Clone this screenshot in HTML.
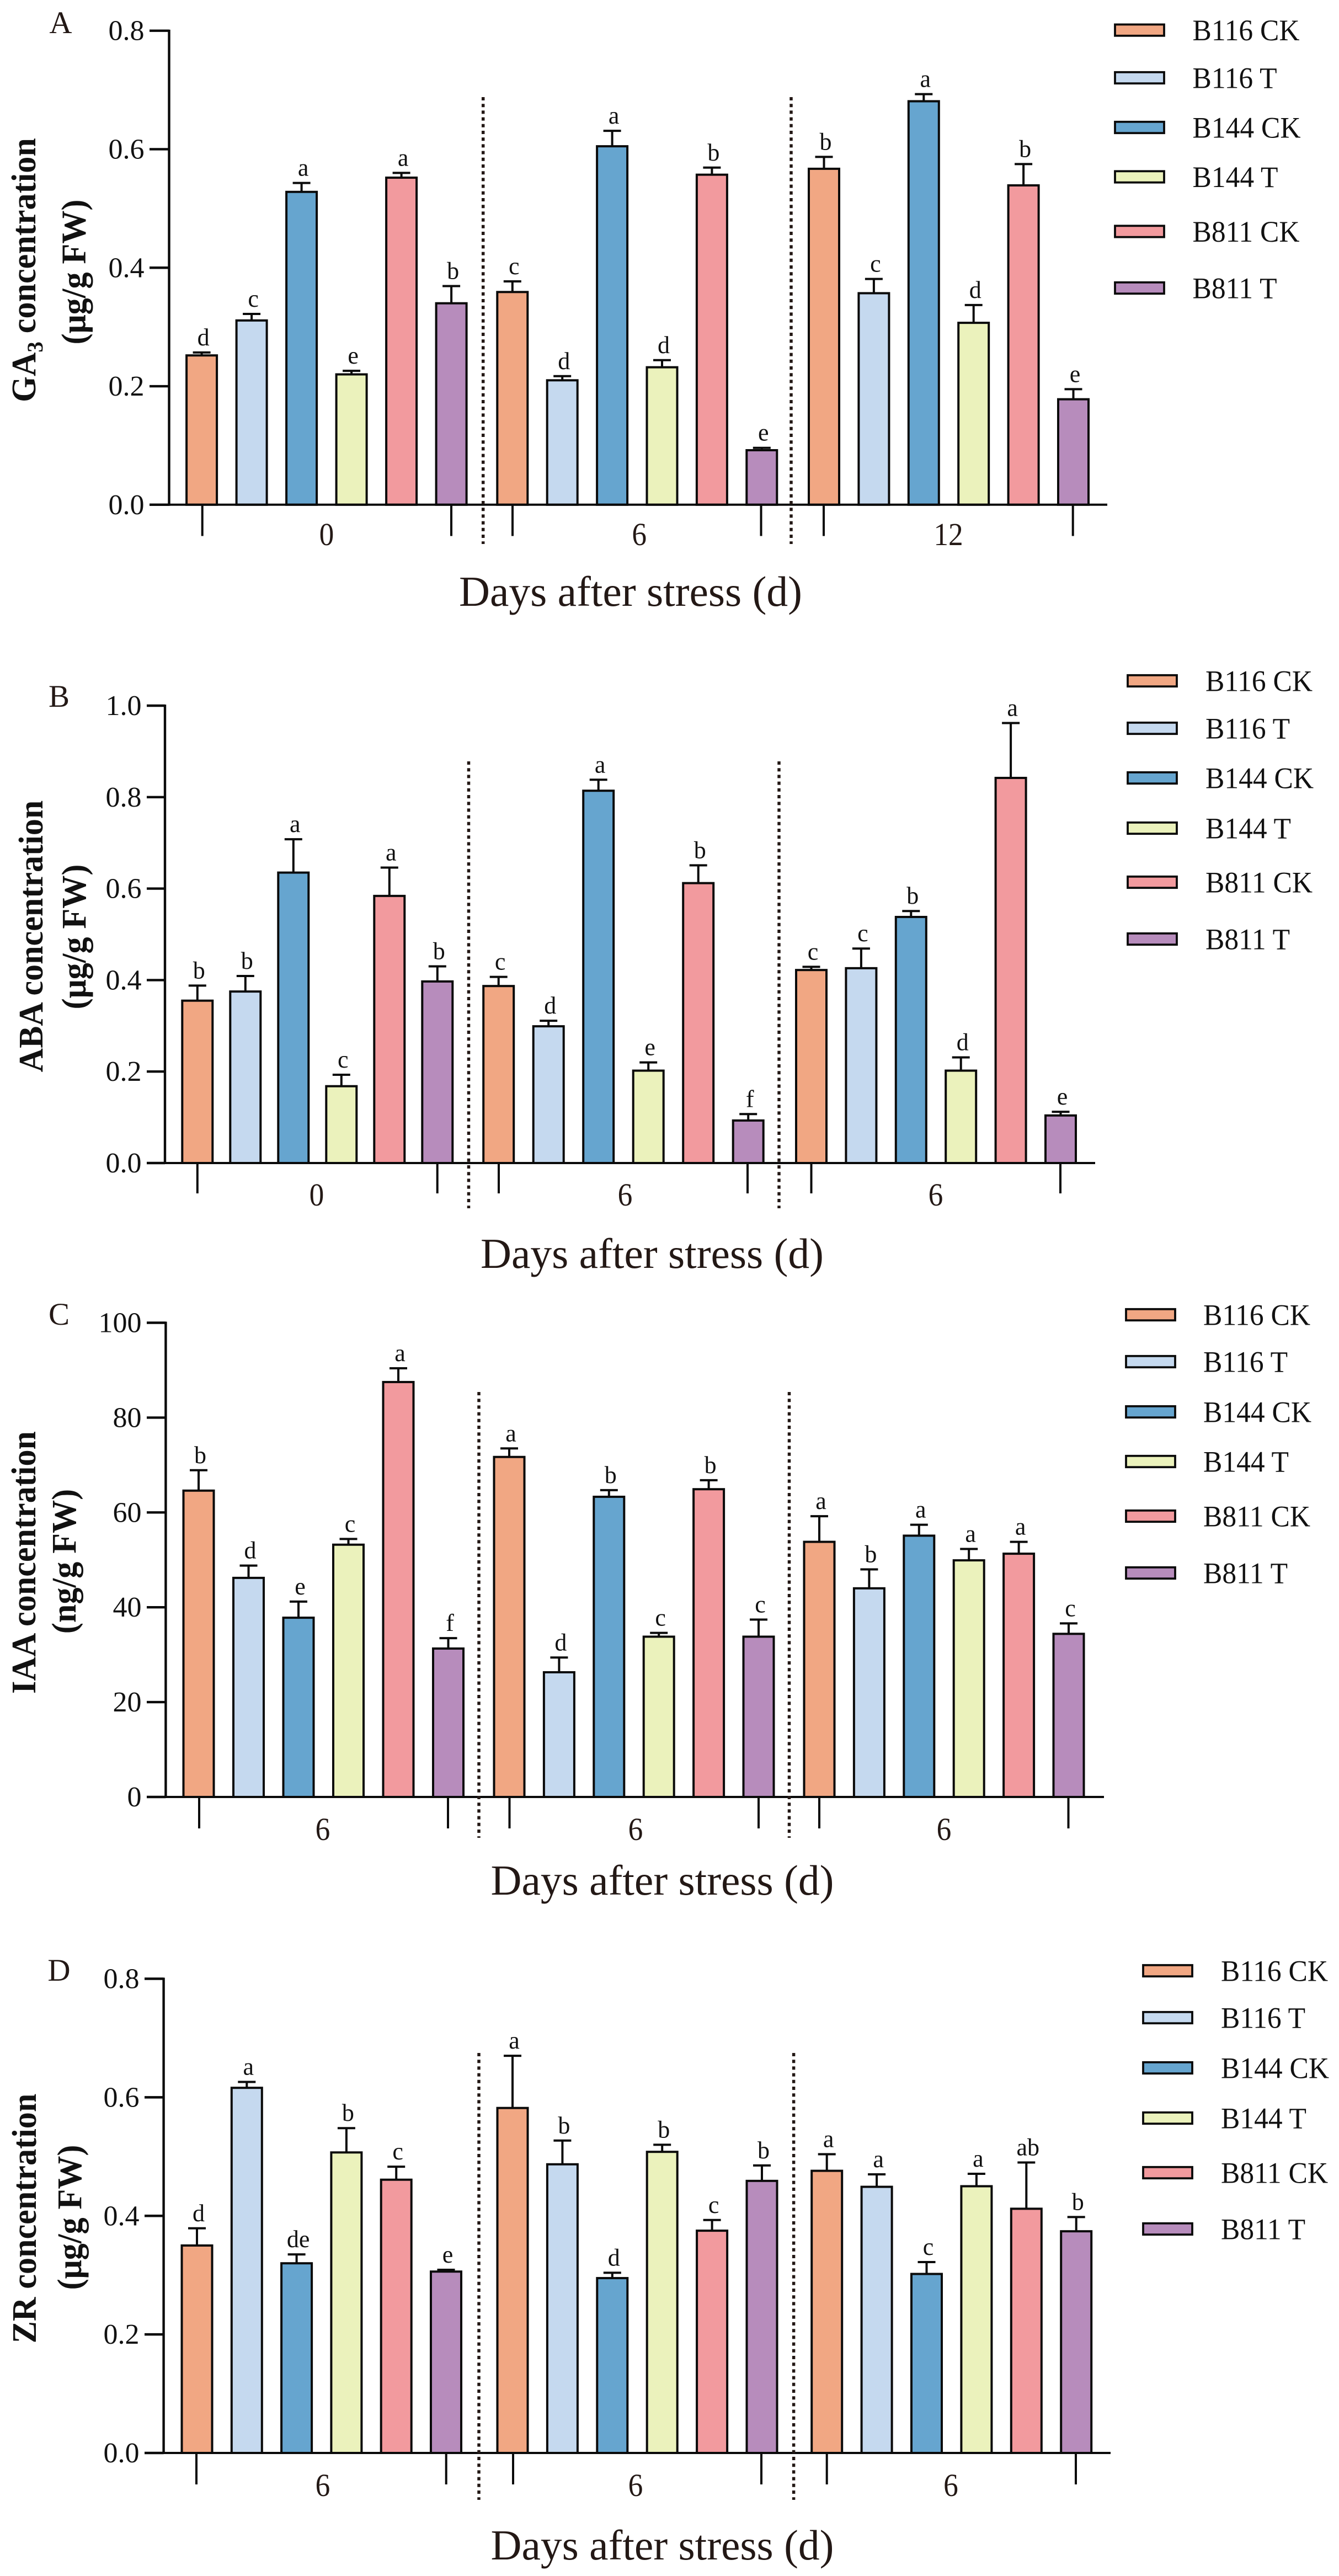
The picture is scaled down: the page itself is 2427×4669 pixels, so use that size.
<!DOCTYPE html>
<html lang="en">
<head>
<meta charset="utf-8">
<title>Hormone concentrations after stress</title>
<style>
html,body{margin:0;padding:0;background:#fff;}
svg{display:block;}
text{font-family:"Liberation Serif","Noto Serif CJK SC",serif;fill:#111;}
</style>
</head>
<body>
<svg id="figure" xmlns="http://www.w3.org/2000/svg" width="2427" height="4669" viewBox="0 0 2427 4669"></svg>
<script>
const seriesNames = ['B116 CK', 'B116 T', 'B144 CK', 'B144 T', 'B811 CK', 'B811 T'];
const seriesColors = ['#F1A783', '#C5D9EF', '#66A5CF', '#EBF2BC', '#F29A9E', '#B78CBC'];

const gaTicks = [0, 0.2, 0.4, 0.6, 0.8];
const gaDays = ['0', '6', '12'];
const gaValues = [
  [0.252, 0.311, 0.528, 0.220, 0.552, 0.340],
  [0.359, 0.210, 0.605, 0.232, 0.557, 0.092],
  [0.567, 0.357, 0.681, 0.307, 0.539, 0.178]
];
const gaErrors = [
  [0.005, 0.011, 0.015, 0.006, 0.008, 0.029],
  [0.018, 0.007, 0.026, 0.012, 0.012, 0.004],
  [0.020, 0.024, 0.012, 0.030, 0.036, 0.017]
];
const gaLetters = [
  ['d', 'c', 'a', 'e', 'a', 'b'],
  ['c', 'd', 'a', 'd', 'b', 'e'],
  ['b', 'c', 'a', 'd', 'b', 'e']
];

const abaTicks = [0, 0.2, 0.4, 0.6, 0.8, 1.0];
const abaDays = ['0', '6', '6'];
const abaValues = [
  [0.355, 0.375, 0.635, 0.168, 0.584, 0.397],
  [0.387, 0.299, 0.814, 0.202, 0.612, 0.093],
  [0.422, 0.426, 0.538, 0.202, 0.842, 0.104]
];
const abaErrors = [
  [0.033, 0.034, 0.073, 0.025, 0.062, 0.033],
  [0.020, 0.012, 0.024, 0.018, 0.039, 0.014],
  [0.007, 0.043, 0.013, 0.029, 0.120, 0.008]
];
const abaLetters = [
  ['b', 'b', 'a', 'c', 'a', 'b'],
  ['c', 'd', 'a', 'e', 'b', 'f'],
  ['c', 'c', 'b', 'd', 'a', 'e']
];

const iaaTicks = [0, 20, 40, 60, 80, 100];
const iaaDays = ['6', '6', '6'];
const iaaValues = [
  [64.6, 46.2, 37.8, 53.2, 87.5, 31.3],
  [71.7, 26.3, 63.3, 33.8, 64.9, 33.8],
  [53.8, 44.0, 55.1, 49.9, 51.3, 34.4]
];
const iaaErrors = [
  [4.3, 2.6, 3.4, 1.2, 2.9, 2.2],
  [1.8, 3.1, 1.4, 0.8, 1.9, 3.6],
  [5.4, 4.0, 2.3, 2.4, 2.5, 2.2]
];
const iaaLetters = [
  ['b', 'd', 'e', 'c', 'a', 'f'],
  ['a', 'd', 'b', 'c', 'b', 'c'],
  ['a', 'b', 'a', 'a', 'a', 'c']
];

const zrTicks = [0, 0.2, 0.4, 0.6, 0.8];
const zrDays = ['6', '6', '6'];
const zrValues = [
  [0.350, 0.616, 0.320, 0.507, 0.461, 0.306],
  [0.582, 0.487, 0.295, 0.508, 0.375, 0.459],
  [0.476, 0.449, 0.302, 0.450, 0.412, 0.374]
];
const zrErrors = [
  [0.029, 0.010, 0.015, 0.041, 0.022, 0.003],
  [0.088, 0.040, 0.009, 0.012, 0.018, 0.026],
  [0.028, 0.021, 0.020, 0.021, 0.078, 0.024]
];
const zrLetters = [
  ['d', 'a', 'de', 'b', 'c', 'e'],
  ['a', 'b', 'd', 'b', 'c', 'b'],
  ['a', 'a', 'c', 'a', 'ab', 'b']
];

const panelA = {
  key: 'ga3', label: 'A', labelX: 110, labelY: 60,
  ticks: gaTicks, days: gaDays, values: gaValues, errors: gaErrors, letters: gaLetters, decimals: 1,
  axisX: 306.5, tickLeft: 271, axisRight: 2007, yTop: 55.7, yZero: 914.8, maxV: 0.8,
  groupStart: [365.6, 928.8, 1493.5], pitch: [90.5, 90.4, 90.4],
  groupTickEnd: [[366.7, 818], [929, 1379.5], [1493, 1944.7]], tickBottom: 971.5,
  dividers: [875.7, 1434], divTop: 176, divBottom: 986,
  dayX: [592, 1158.7, 1719], dayY: 988,
  titleX: 1143, titleY: 1098,
  yTitle: [{ x: 64, y: 489.5, text: 'GA', sub: '3', tail: ' concentration' }, { x: 154.6, y: 493, text: '(\u03bcg/g FW)' }],
  legendX: 2021, legendTextX: 2161.5, legendY: [54.6, 141, 231, 320.5, 419.5, 522]
};
const panelB = {
  key: 'aba', label: 'B', labelX: 107, labelY: 1281,
  ticks: abaTicks, days: abaDays, values: abaValues, errors: abaErrors, letters: abaLetters, decimals: 1,
  axisX: 299, tickLeft: 266, axisRight: 1985, yTop: 1279, yZero: 2108, maxV: 1.0,
  groupStart: [357.8, 903.7, 1470.5], pitch: [87, 90.5, 90.4],
  groupTickEnd: [[357.8, 792.7], [904, 1355], [1470.5, 1922]], tickBottom: 2163,
  dividers: [849.5, 1412], divTop: 1380, divBottom: 2190,
  dayX: [574, 1133, 1696], dayY: 2185,
  titleX: 1182, titleY: 2298,
  yTitle: [{ x: 77, y: 1697, text: 'ABA concentration' }, { x: 155, y: 1698, text: '(\u03bcg/g FW)' }],
  legendX: 2044, legendTextX: 2185, legendY: [1234, 1320, 1410, 1501, 1599, 1702]
};
const panelC = {
  key: 'iaa', label: 'C', labelX: 107, labelY: 2401,
  ticks: iaaTicks, days: iaaDays, values: iaaValues, errors: iaaErrors, letters: iaaLetters, decimals: 0,
  axisX: 300.4, tickLeft: 266, axisRight: 2001, yTop: 2397.5, yZero: 3257, maxV: 100,
  groupStart: [360, 923, 1485], pitch: [90.5, 90.4, 90.4],
  groupTickEnd: [[361, 812], [923.5, 1375], [1485, 1936.5]], tickBottom: 3314,
  dividers: [868, 1430.5], divTop: 2523, divBottom: 3331,
  dayX: [585, 1152, 1711], dayY: 3335,
  titleX: 1200.5, titleY: 3434,
  yTitle: [{ x: 64, y: 2832, text: 'IAA concentration' }, { x: 137, y: 2830, text: '(ng/g FW)' }],
  legendX: 2041, legendTextX: 2181, legendY: [2383, 2468, 2559, 2649, 2748, 2851]
};
const panelD = {
  key: 'zr', label: 'D', labelX: 107, labelY: 3590,
  ticks: zrTicks, days: zrDays, values: zrValues, errors: zrErrors, letters: zrLetters, decimals: 1,
  axisX: 296.6, tickLeft: 262, axisRight: 2013, yTop: 3586.5, yZero: 4446, maxV: 0.8,
  groupStart: [357, 929, 1498.7], pitch: [90.3, 90.4, 90.4],
  groupTickEnd: [[356, 808.7], [930, 1380], [1498.7, 1950]], tickBottom: 4503,
  dividers: [868, 1438.6], divTop: 3721, divBottom: 4531,
  dayX: [585, 1152, 1723.5], dayY: 4524,
  titleX: 1200.5, titleY: 4639,
  yTitle: [{ x: 65, y: 4021, text: 'ZR concentration' }, { x: 147, y: 4019, text: '(\u03bcg/g FW)' }],
  legendX: 2072, legendTextX: 2213, legendY: [3572, 3657, 3748, 3839, 3938, 4040]
};
const panels = [panelA, panelB, panelC, panelD];

const svgNS = 'http://www.w3.org/2000/svg';
const root = document.getElementById('figure');
const INK = '#0a0a0a';

function make(parent, tag, attrs, content) {
  const node = document.createElementNS(svgNS, tag);
  for (const k in attrs) node.setAttribute(k, attrs[k]);
  if (content !== undefined) node.textContent = content;
  parent.appendChild(node);
  return node;
}
function line(parent, x1, y1, x2, y2, width, extra) {
  return make(parent, 'line', Object.assign({ x1: x1, y1: y1, x2: x2, y2: y2, stroke: INK, 'stroke-width': width }, extra || {}));
}
function yScale(p, v) {
  return p.yZero - (v / p.maxV) * (p.yZero - p.yTop);
}
function xScale(p, group, series) {
  return p.groupStart[group] + series * p.pitch[group];
}

const BAR_W = 55;
const CAP_W = 32;

panels.forEach(function (p) {
  const g = make(root, 'g', {});
  
  

  const letter = make(g, 'text', { x: p.labelX, y: p.labelY, 'font-size': 57, 'text-anchor': 'middle', style: 'fill:#231815' }, p.label);
  
  

  // bars, error bars, significance letters
  p.values.forEach(function (groupValues, gi) {
    groupValues.forEach(function (v, si) {
      const cx = xScale(p, gi, si);
      const top = yScale(p, v);
      const errTop = yScale(p, v + p.errors[gi][si]);

      const stem = line(g, cx, top, cx, errTop, 4);
      
      
      const cap = line(g, cx - CAP_W / 2, errTop, cx + CAP_W / 2, errTop, 4);
      
      

      const bar = make(g, 'rect', {
        x: cx - BAR_W / 2, y: top, width: BAR_W, height: p.yZero - top,
        fill: seriesColors[si], stroke: INK, 'stroke-width': 4
      });
      
      

      const sig = make(g, 'text', { x: cx + 3, y: errTop - 13, 'font-size': 44, 'text-anchor': 'middle' }, p.letters[gi][si]);
      
      
    });
  });

  // y axis
  const yAxis = line(g, p.axisX, p.yTop - 2, p.axisX, p.yZero + 2, 4.4);
  
  
  p.ticks.forEach(function (t) {
    const ty = yScale(p, t);
    const tick = line(g, p.tickLeft, ty, p.axisX, ty, 4.4);
    
    
    const tickText = make(g, 'text', { x: p.tickLeft - 9.5, y: ty + 17, 'font-size': 52, 'text-anchor': 'end' }, t.toFixed(p.decimals));
    
    
  });

  // x axis
  const xAxis = line(g, p.tickLeft, p.yZero, p.axisRight, p.yZero, 4);
  
  
  p.groupTickEnd.forEach(function (pair) {
    pair.forEach(function (tx) {
      const tick = line(g, tx, p.yZero, tx, p.tickBottom, 4);
      
      
    });
  });
  p.days.forEach(function (d, i) {
    const dayText = make(g, 'text', {
      transform: 'translate(' + p.dayX[i] + ',' + p.dayY + ') scale(0.92,1)',
      'font-size': 58, 'text-anchor': 'middle', style: 'fill:#231815'
    }, d);
    
    
  });
  p.dividers.forEach(function (dx) {
    const divider = line(g, dx, p.divTop, dx, p.divBottom, 5.5, { 'stroke-dasharray': '6 6.2', stroke: '#231815' });
    
    
  });

  const xTitle = make(g, 'text', { x: p.titleX, y: p.titleY, 'font-size': 77.5, 'text-anchor': 'middle', style: 'fill:#231815' }, 'Days after stress (d)');
  
  

  // y title lines
  p.yTitle.forEach(function (row) {
    const t = make(g, 'text', {
      transform: 'translate(' + row.x + ',' + row.y + ') rotate(-90) scale(0.97,1)',
      'font-size': 62, 'font-weight': 'bold', 'text-anchor': 'middle'
    });
    
    
    make(t, 'tspan', {}, row.text);
    if (row.sub) {
      make(t, 'tspan', { dy: 13, 'font-size': 40 }, row.sub);
      make(t, 'tspan', { dy: -13 }, row.tail);
    }
  });

  // legend
  seriesNames.forEach(function (name, i) {
    const ly = p.legendY[i];
    const swatch = make(g, 'rect', {
      x: p.legendX, y: ly - 10.2, width: 89, height: 20.4,
      fill: seriesColors[i], stroke: INK, 'stroke-width': 3.8
    });
    
    
    const entry = make(g, 'text', {
      transform: 'translate(' + p.legendTextX + ',' + (ly + 18.3) + ') scale(0.945,1)',
      'font-size': 54.5
    }, name);
    
    
  });
});
</script>
</body>
</html>
